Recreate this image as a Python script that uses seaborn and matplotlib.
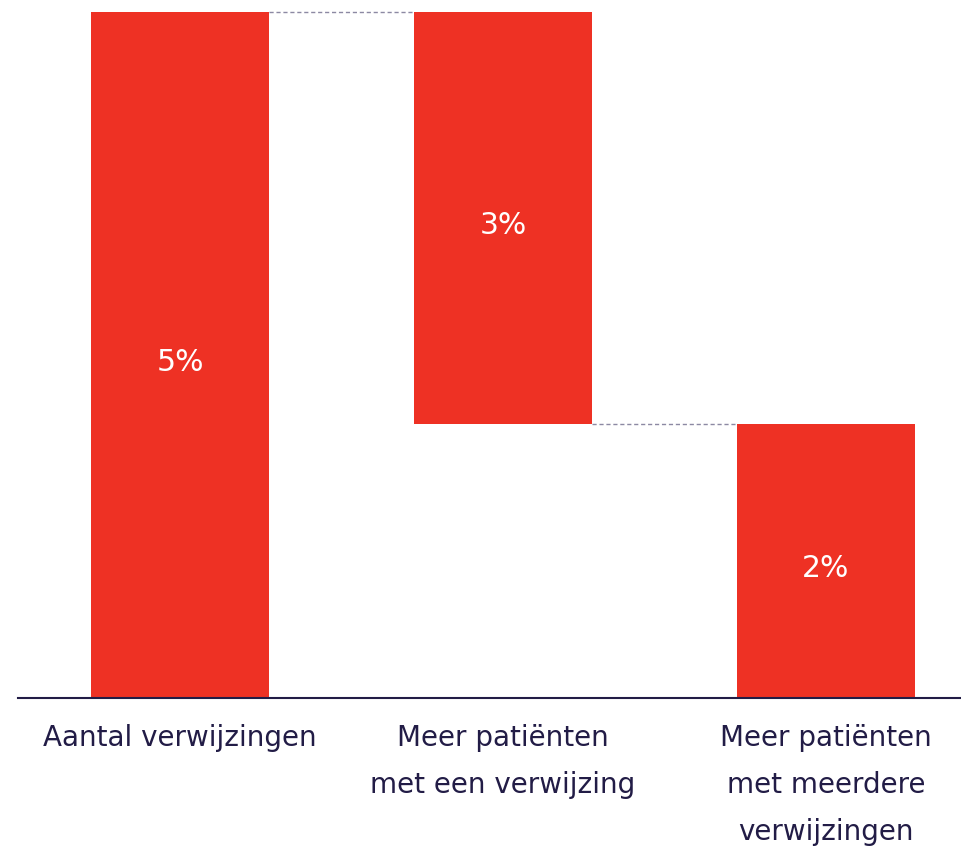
import matplotlib
matplotlib.use("Agg")
import matplotlib.pyplot as plt
import seaborn as sns
import pandas as pd

# Waterfall: total referrals split into two contributions
categories = ["Aantal verwijzingen",
              "Meer patiënten\nmet een verwijzing",
              "Meer patiënten\nmet meerdere\nverwijzingen"]
steps = [5, -3, 2]          # start total, decrease, remaining total
kinds = ["total", "delta", "total"]
labels = ["5%", "3%", "2%"]

# Floating bar extents
lows, highs = [], []
running = 0
for s, k in zip(steps, kinds):
    if k == "total":
        lo, hi = 0, s
        running = s
    else:
        new = running + s
        lo, hi = min(running, new), max(running, new)
        running = new
    lows.append(lo)
    highs.append(hi)

df = pd.DataFrame({"cat": categories, "low": lows, "high": highs, "label": labels})

RED = "#EE3124"
NAVY = "#221c46"
DASH = "#8c89a3"

sns.set_theme(style="white")
plt.rcParams["font.family"] = ["DejaVu Sans"]

fig = plt.figure(figsize=(9.62, 8.53), dpi=100)
ax = fig.add_axes([18 / 962, 154 / 853, 944 / 962, 686 / 853])

width = 0.55
sns.barplot(data=df, x="cat", y="high", color=RED, width=width,
            saturation=1, ax=ax, edgecolor="none", linewidth=0)

# lift floating bars to their lower bound
for patch, lo, hi in zip(ax.patches, df["low"], df["high"]):
    patch.set_y(lo)
    patch.set_height(hi - lo)
    patch.set_clip_on(False)

# value labels in the middle of each bar
for i, (lo, hi, lab) in enumerate(zip(df["low"], df["high"], df["label"])):
    ax.annotate(lab, xy=(i, (lo + hi) / 2), xytext=(0, -2.5),
                textcoords="offset points", ha="center", va="center_baseline",
                color="white", fontsize=21.5)

# dashed connectors between consecutive bars
for i in range(len(df) - 1):
    if kinds[i] == "total":
        level = df["high"].iloc[i]
    else:
        level = df["low"].iloc[i]
    ax.plot([i + width / 2, i + 1 - width / 2], [level, level],
            color=DASH, linestyle=(0, (3, 2)), linewidth=1.0, clip_on=False)

ax.set_xlim(-0.5015, 2.421)
ax.set_ylim(0, 5)
ax.set_xlabel("")
ax.set_ylabel("")
ax.set_yticks([])
for side in ["top", "right", "left"]:
    ax.spines[side].set_visible(False)
ax.spines["bottom"].set_color(NAVY)
ax.spines["bottom"].set_linewidth(1.5)
ax.tick_params(axis="x", length=0, pad=18, labelsize=20, colors=NAVY)
for t in ax.get_xticklabels():
    t.set_linespacing(1.86)
    t.set_verticalalignment("top")

fig.savefig("out.png", dpi=100, facecolor="white")
